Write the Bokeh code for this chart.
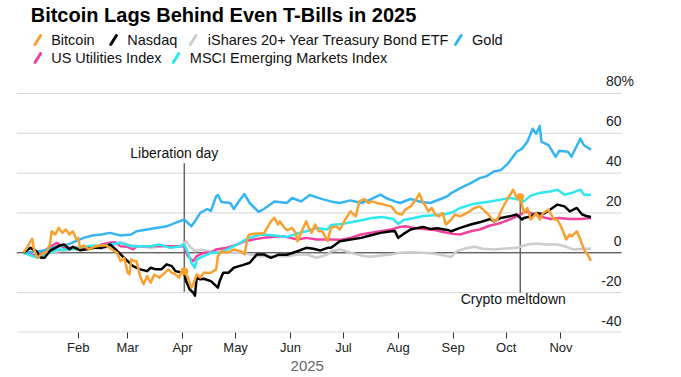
import numpy as np
import pandas as pd
from bokeh.plotting import figure
from bokeh.models import Range1d, FixedTicker, DatetimeTickFormatter
from bokeh.layouts import column
from bokeh.embed import file_html
from bokeh.resources import INLINE
from bokeh.core.properties import value

# ---------------- data (days since 2025-01-01, % change YTD) ----------------
BTC_DAYS = [0, 2, 4, 5, 6, 8, 10, 13, 15, 16, 18, 20, 22, 24, 26, 28, 30, 31, 32, 34, 37, 40, 44, 47, 50, 53,
            55, 57, 59, 60, 61, 63, 64, 66, 68, 70, 72, 74, 77, 79, 82, 84, 86, 88, 90, 91, 93, 95, 96, 98,
            100, 102, 106, 109, 110, 112, 115, 119, 123, 125, 127, 128, 132, 136, 140, 142, 144, 145, 147,
            149, 152, 154, 155, 157, 160, 161, 163, 165, 167, 169, 172, 174, 177, 179, 182, 185, 188, 190,
            193, 195, 197, 200, 204, 208, 211, 214, 216, 219, 222, 224, 226, 227, 229, 231, 233, 235, 237,
            239, 242, 244, 247, 251, 255, 258, 260, 263, 266, 268, 271, 274, 276, 277, 279, 281, 283, 285,
            287, 290, 292, 294, 297, 300, 302, 304, 307, 309, 310, 313, 315, 317, 319, 321]
BTC_VALS = [0, 2.5, 5.8, 7, 1.7, -2.5, -0.8, 0.3, 4.2, 10.8, 9.2, 12.5, 10, 11.7, 9.2, 10.8, 6.7, 7.5, 2.5, 3.7,
            1.7, 3, 3.7, 3.7, 1.7, 0, -4.2, -2.5, -10, -10.8, -3.3, -4.2, -4.2, -11.7, -15.8, -11.7, -15, -11,
            -12.5, -10.8, -8.3, -10, -10.8, -12.5, -8.3, -9.3, -12.5, -17.5, -16, -10.8, -12.5, -10, -10, -8.3,
            -1.7, 0.8, 0, 1.7, 0.8, -0.8, 8.3, 9.2, 9.7, 9.7, 15.8, 17.5, 14.2, 15.8, 13.3, 11.3, 12.5, 10,
            5.8, 10, 15.8, 13.3, 10, 14.2, 10.8, 10.8, 6, 12.5, 13.3, 11.7, 16.7, 20.8, 18.3, 25.8, 27, 25,
            25.8, 25, 24.2, 23.3, 20, 19.2, 21.7, 23.3, 26.7, 29.7, 25, 24.2, 20.8, 22.5, 19.2, 18.3, 20,
            14.2, 16.7, 19.2, 18.3, 20, 22.5, 23.3, 21.7, 19.2, 15.8, 16.7, 22.5, 27.5, 30, 31.7, 27.5, 28,
            20, 22.5, 16.7, 20, 16.7, 20, 21.7, 16.7, 16.7, 13.3, 6.7, 9.2, 8.3, 10.8, 6.7, 1.7, -0.8, -4]

NDQ_DAYS = [0, 4, 7, 10, 12, 15, 20, 23, 26, 28, 32, 36, 40, 44, 47, 49, 52, 55, 57, 59, 62, 66, 70, 72, 75,
            78, 81, 84, 86, 90, 91, 92, 94, 96, 97, 98, 100, 102, 106, 110, 111, 113, 116, 119, 122, 124,
            128, 132, 136, 140, 144, 149, 155, 160, 164, 168, 172, 174, 179, 185, 191, 196, 202, 208, 210,
            212, 215, 219, 223, 226, 230, 234, 238, 240, 242, 247, 253, 258, 264, 266, 270, 275, 279, 282,
            283, 287, 290, 294, 298, 302, 306, 309, 313, 316, 319, 321]
NDQ_VALS = [0, 2.5, 1, -2.5, -2.5, 1, 3.5, 4.2, 1.8, 3, 1.3, 1.8, 2.5, 2.5, 3.3, 4.2, 1.8, -0.8, -2.5, -4.2,
            -6.7, -8.3, -9.2, -7.5, -8.3, -8.3, -5.8, -6.7, -9.2, -10, -10.5, -14.2, -18.3, -20, -21.5,
            -12.5, -13.3, -13, -14.2, -17.5, -14.2, -10, -10, -7.5, -6.7, -6.2, -5, -0.8, -0.8, -2.5, -1,
            -1, 0.8, 2.5, 2, 1.2, 2.5, 2.5, 5.8, 6.7, 7.5, 8.7, 10, 10.8, 11, 7.5, 9.5, 11.7, 12.5, 13, 12,
            12.3, 11.7, 11.5, 10.8, 12.5, 14.2, 15.3, 17, 15.8, 17.5, 18.3, 19.2, 16.7, 17.5, 18.3, 20,
            19.5, 21.7, 24.2, 23.3, 20.8, 22.5, 19.2, 18.3, 18]

TLT_DAYS = [0, 7, 13, 20, 27, 36, 40, 44, 49, 55, 61, 66, 72, 77, 83, 89, 92, 94, 97, 100, 106, 111, 119,
            124, 128, 134, 140, 149, 155, 160, 166, 172, 174, 179, 185, 191, 196, 202, 208, 213, 219, 225,
            232, 236, 240, 242, 245, 249, 255, 260, 266, 271, 279, 285, 290, 296, 302, 306, 311, 317, 321]
TLT_VALS = [0, -0.8, 0, 0.8, 1.5, 2, 2.5, 2, 3.3, 5.3, 3.7, 3.3, 2.5, 3, 3.3, 3.3, 5.8, 3.3, 0.8, 1.5, 0.8,
            0, 0, 0, -0.8, -1.7, -1.7, -1.7, -0.8, -0.8, -2.5, -0.8, 0.8, 1.7, 0, -1.3, -2, -1.3, -0.8, 0,
            0.3, 0, -0.3, -1, -1.7, -2, 0.8, 2, 3, 2, 1.7, 2, 2.5, 4.2, 4.7, 4.2, 4.2, 3.3, 1.7, 2, 2]

GOLD_DAYS = [0, 6, 11, 17, 22, 26, 30, 34, 39, 44, 49, 55, 61, 64, 70, 75, 81, 86, 91, 93, 95, 97, 100, 104,
             106, 109, 110, 112, 117, 119, 122, 125, 128, 133, 136, 142, 149, 152, 157, 162, 166, 170, 174,
             179, 185, 191, 196, 202, 205, 210, 213, 219, 225, 230, 236, 240, 242, 247, 253, 258, 262, 266,
             270, 274, 279, 282, 285, 288, 290, 292, 293, 297, 301, 303, 308, 310, 311, 315, 317, 321]
GOLD_VALS = [0, 0.5, 1, 2.5, 3.5, 4.5, 6, 7.5, 8.7, 9.2, 10, 8.7, 9.2, 10.8, 11.7, 12.5, 13.3, 15, 16.7, 15,
             13.3, 15.8, 20, 22, 21, 28.3, 29, 25.5, 25, 22, 26, 29.5, 25, 20.5, 22, 25.8, 25, 27.5, 25.8, 29,
             27.8, 26.7, 25.8, 25, 26.3, 25, 26.7, 29.2, 27.5, 25.8, 25, 27, 25.5, 25, 27, 28.5, 30, 32.5,
             35, 37.5, 38.5, 40.8, 41.5, 44.8, 50.7, 52.3, 55.7, 62.3, 59.8, 63.7, 55.7, 54, 48.2, 51.2,
             50.7, 48.2, 50.2, 57.3, 54, 51.8]

UTIL_DAYS = [0, 8, 15, 19, 23, 30, 36, 42, 44, 49, 52, 55, 59, 62, 64, 72, 77, 83, 89, 91, 93, 96, 98, 102,
             106, 109, 115, 121, 125, 130, 136, 142, 147, 151, 155, 160, 166, 174, 179, 185, 191, 196, 202,
             208, 213, 216, 221, 227, 232, 238, 243, 247, 253, 258, 264, 270, 275, 281, 284, 287, 292, 298,
             303, 309, 315, 321]
UTIL_VALS = [0, -1.7, 3, 5, 2.5, 2.5, 2, 3, 4.2, 5, 5.3, 3.3, 3, 1.7, 3.3, 3.3, 3.5, 3.3, 3.3, 3.3, -1.7,
             -4.2, -1.7, 0, 0, 1.7, 2.5, 4.2, 5.8, 6.7, 7.5, 8, 8.3, 7.5, 6.7, 7.5, 6.7, 6.7, 6.5, 7.5, 9.2,
             10, 10.8, 11.7, 13, 13.3, 12.5, 12, 11.5, 10.3, 9.5, 9.2, 10.8, 11.7, 13.7, 15, 16.7, 19.2,
             20.8, 20, 18.3, 17, 17.5, 17, 17, 17.5]

EM_DAYS = [0, 8, 13, 19, 26, 34, 40, 44, 49, 55, 61, 66, 72, 77, 83, 89, 91, 93, 95, 97, 98, 102, 106, 111,
           117, 121, 124, 128, 132, 136, 142, 149, 155, 160, 166, 172, 174, 180, 186, 192, 197, 203, 209, 212,
           215, 221, 226, 232, 238, 243, 247, 253, 258, 264, 270, 275, 279, 283, 287, 292, 298, 302, 306, 311,
           315, 317, 321]
EM_VALS = [0, -2.5, -0.8, 1.7, 1.7, 3, 3.7, 3.3, 4.2, 5, 3.3, 3.3, 3.3, 4.2, 2.5, 3.3, 4.2, 0, -5, -7.5,
           -3.3, -1.7, 0, 0, 2.5, 4.2, 5.8, 7.5, 8.7, 9.2, 8.7, 8, 9.7, 10.8, 12.5, 11.7, 14, 14.5, 15.5,
           16.5, 17.5, 18, 17, 14.5, 16.5, 17.5, 18.5, 18.8, 19.2, 20.5, 22.5, 24.2, 25, 25.8, 26.7, 27.5,
           27, 25.8, 28.7, 30, 30.8, 31.7, 29.2, 30.3, 31.7, 29.2, 29.2]

SERIES_NAMES = ["Bitcoin", "Nasdaq", "iShares 20+ Year Treasury Bond ETF", "Gold",
                "US Utilities Index", "MSCI Emerging Markets Index"]
SERIES_COLORS = ["#F8A130", "#000000", "#CCCCCC", "#36B5F2", "#F2419C", "#2EE8F0"]

MONTH_TICKS = ["2025-02-01", "2025-03-01", "2025-04-01", "2025-05-01", "2025-06-01",
               "2025-07-01", "2025-08-01", "2025-09-01", "2025-10-01", "2025-11-01"]
Y_TICKS = [-40, -20, 0, 20, 40, 60, 80]
Y_TICK_LABELS = ["-40", "-20", "0", "20", "40", "60", "80"]

EVENT_DAYS = [91, 281]
EVENT_LABELS = ["Liberation day", "Crypto meltdown"]

TITLE = "Bitcoin Lags Behind Even T-Bills in 2025"
YEAR_LABEL = "2025"

# ---------------- helpers ----------------
BASE = pd.Timestamp("2025-01-01")
FONT = value("Liberation Sans")


def to_dates(days):
    return BASE + pd.to_timedelta(np.asarray(days, dtype=float), unit="D")


def ms(ts):
    return (ts - pd.Timestamp("1970-01-01")).total_seconds() * 1000.0


def pixel_fig(height):
    f = figure(width=W, height=height, x_range=Range1d(0, W), y_range=Range1d(height, 0),
               x_axis_type=None, y_axis_type=None, toolbar_location=None, output_backend="svg",
               min_border=0, min_border_left=0, min_border_right=0, min_border_top=0, min_border_bottom=0)
    f.outline_line_color = None
    f.grid.visible = False
    return f


W = 680

# ---------------- header (title + legend) ----------------
hdr = pixel_fig(70)
hdr.text(x=[15], y=[14], text=[TITLE], text_font=FONT, text_font_size="20px",
         text_font_style="bold", text_baseline="middle", text_align="left", text_color="#000000")

legend_layout = [  # (series index, icon x, text x, row y)
    (0, 18, 36.6, 39.5), (1, 98, 117, 39.5), (2, 182, 202, 39.5), (3, 462, 481, 39.5),
    (4, 18, 36.6, 57.5), (5, 164, 183, 57.5),
]
for idx, ix, tx, ry in legend_layout:
    hdr.segment(x0=[ix + 1.5], y0=[ry + 4.5], x1=[ix + 7.5], y1=[ry - 4.5],
                line_color=SERIES_COLORS[idx], line_width=3, line_cap="round")
    hdr.text(x=[tx], y=[ry], text=[SERIES_NAMES[idx]], text_font=FONT, text_font_size="14.5px",
             text_baseline="middle", text_align="left", text_color="#111111")

# ---------------- main chart ----------------
x_start = BASE + pd.Timedelta(days=-3.9)
x_end = BASE + pd.Timedelta(days=360.3)
grid_end = BASE + pd.Timedelta(days=338.3)

p = figure(width=W, height=287, x_axis_type="datetime", y_axis_type=None,
           x_range=Range1d(x_start, x_end), y_range=Range1d(-40, 90.5),
           toolbar_location=None, output_backend="svg",
           min_border_left=16, min_border_right=20, min_border_top=2, min_border_bottom=24)
p.outline_line_color = None
p.xgrid.visible = False
p.background_fill_color = "white"
p.border_fill_color = "white"

# grid lines
for yv in Y_TICKS:
    if yv == 0:
        continue
    p.segment(x0=[x_start], y0=[yv], x1=[grid_end], y1=[yv],
              line_color="#DCDCDC" if yv == -40 else "#D4D4D4",
              line_width=2 if yv == -40 else 1)
p.segment(x0=[x_start], y0=[0], x1=[grid_end], y1=[0], line_color="#222222", line_width=1)

# y tick labels
p.text(x=[grid_end] * len(Y_TICKS), y=Y_TICKS, text=Y_TICK_LABELS, text_font=FONT,
       text_font_size="14px", text_align="right", text_baseline="alphabetic", y_offset=-12,
       text_color="#222222")
p.text(x=[grid_end], y=[80], text=["%"], text_font=FONT, text_font_size="14px",
       text_align="left", text_baseline="alphabetic", y_offset=-12, text_color="#222222")

# event lines
btc_lookup = dict(zip(BTC_DAYS, BTC_VALS))
ev_dates = to_dates(EVENT_DAYS)
ev_btc = [btc_lookup[d] for d in EVENT_DAYS]
p.segment(x0=[ev_dates[0]], y0=[-19.5], x1=[ev_dates[0]], y1=[45],
          line_color="#666666", line_width=1.5)
p.segment(x0=[ev_dates[1]], y0=[-20], x1=[ev_dates[1]], y1=[ev_btc[1]],
          line_color="#666666", line_width=1.5)
p.text(x=[ev_dates[0]], y=[50.2], text=[EVENT_LABELS[0]], text_font=FONT, text_font_size="14px",
       text_align="center", text_baseline="middle", x_offset=-10, text_color="#111111")
p.text(x=[ev_dates[1]], y=[-23], text=[EVENT_LABELS[1]], text_font=FONT, text_font_size="14px",
       text_align="center", text_baseline="middle", x_offset=-7, text_color="#111111")

# series (draw order: bonds, utilities, EM, gold, nasdaq, bitcoin)
series = {
    0: (BTC_DAYS, BTC_VALS), 1: (NDQ_DAYS, NDQ_VALS), 2: (TLT_DAYS, TLT_VALS),
    3: (GOLD_DAYS, GOLD_VALS), 4: (UTIL_DAYS, UTIL_VALS), 5: (EM_DAYS, EM_VALS),
}
for idx in [2, 4, 5, 3, 1, 0]:
    d, v = series[idx]
    p.line(x=to_dates(d), y=v, line_color=SERIES_COLORS[idx], line_width=2.5, line_join="round")

p.scatter(x=ev_dates, y=ev_btc, size=7, fill_color=SERIES_COLORS[0], line_color=SERIES_COLORS[0])

# x axis
xa = p.xaxis[0]
xa.ticker = FixedTicker(ticks=[ms(pd.Timestamp(t)) for t in MONTH_TICKS])
xa.formatter = DatetimeTickFormatter(months="%b", days="%b", years="%b", hours="%b")
xa.axis_line_color = None
xa.major_tick_line_color = "#333333"
xa.major_tick_out = 6
xa.major_tick_in = 0
xa.minor_tick_line_color = None
xa.major_label_standoff = 1
xa.major_label_text_font = "Liberation Sans"
xa.major_label_text_font_size = "13px"
xa.major_label_text_color = "#222222"

# ---------------- footer (year label under the axis) ----------------
ftr = pixel_fig(19)
ftr.text(x=[307], y=[8.5], text=[YEAR_LABEL], text_font=FONT, text_font_size="15px",
         text_color="#666666", text_align="center", text_baseline="middle")

layout = column(hdr, p, ftr, spacing=0)
open("out.html", "w").write(file_html(layout, INLINE))
